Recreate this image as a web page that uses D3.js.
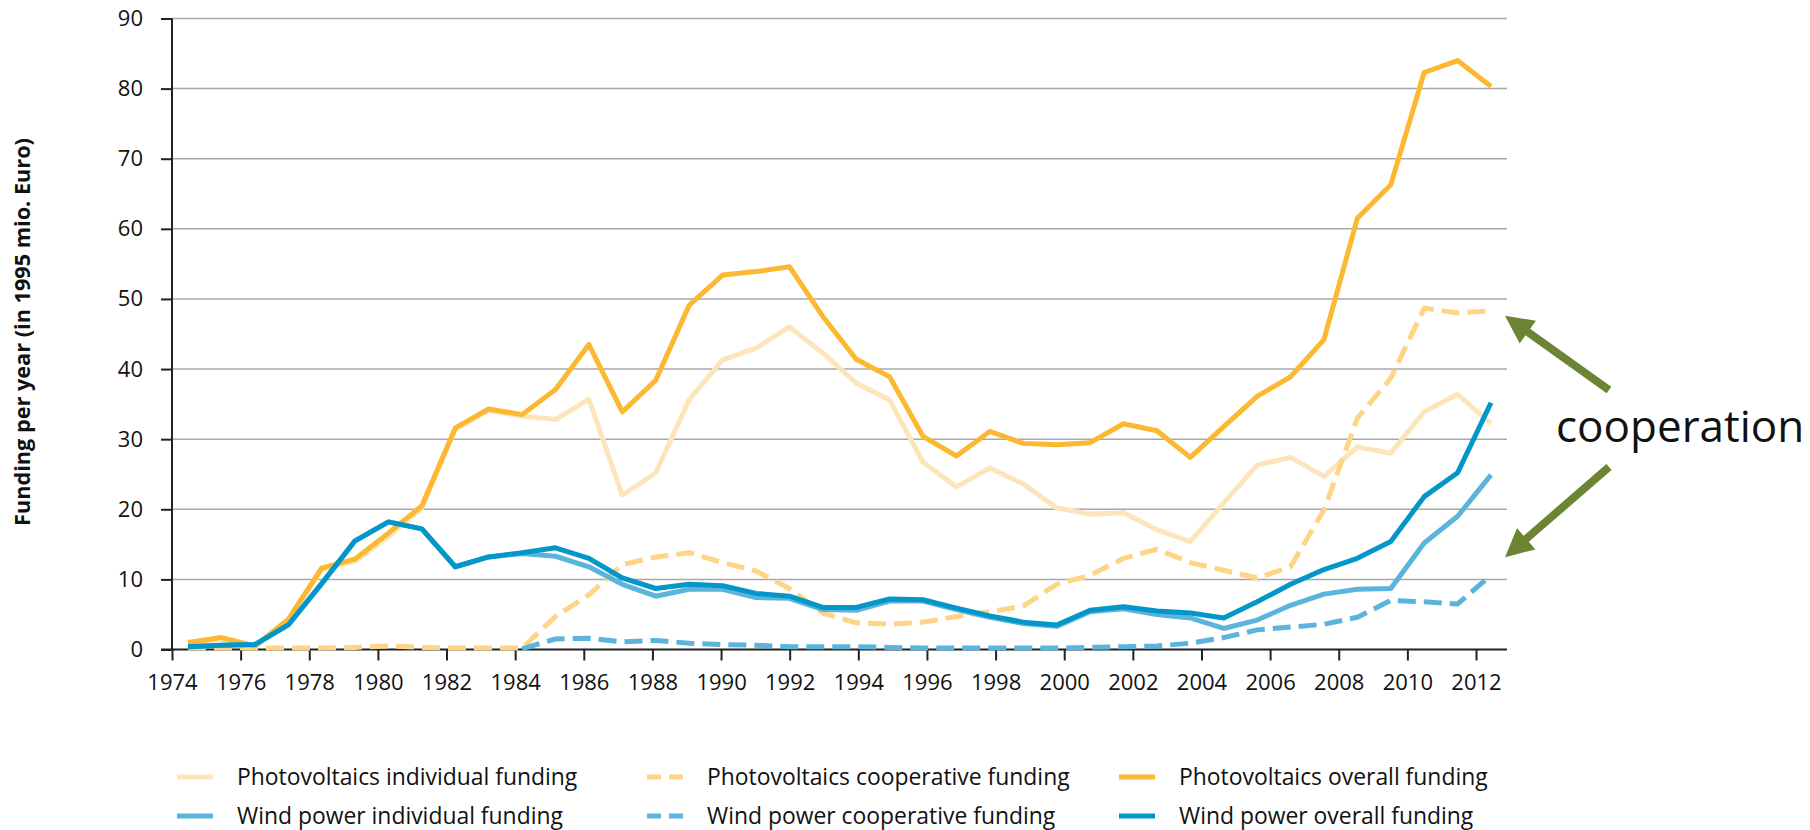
<!DOCTYPE html>
<html>
<head>
<meta charset="utf-8">
<script src="https://cdn.jsdelivr.net/npm/d3@7"></script>
<style>
  body { margin: 0; background: #ffffff; }
  svg { display: block; }
  text { font-family: "Open Sans", "Liberation Sans", sans-serif; fill: #111111; }
</style>
</head>
<body>
<div id="chart"></div>
<script>
// Funding per year for photovoltaics and wind power (in 1995 mio. Euro)

const years = d3.range(1974, 2014);

const pvIndividual = [
  0.8, 1.5, 0.3, 4.1, 11.4, 12.6, 16.1, 20.2, 31.4, 34.1,
  33.3, 32.8, 35.7, 22.0, 25.2, 35.6, 41.3, 43.0, 46.0, 42.3,
  38.0, 35.6, 26.7, 23.2, 25.9, 23.6, 20.2, 19.3, 19.5, 17.1,
  15.4, 20.9, 26.3, 27.4, 24.7, 28.9, 28.0, 33.9, 36.4, 32.2
];
const pvCooperative = [
  0.2, 0.2, 0.2, 0.2, 0.2, 0.3, 0.5, 0.3, 0.2, 0.2,
  0.2, 4.7, 7.8, 12.1, 13.2, 13.8, 12.4, 11.2, 8.7, 5.2,
  3.8, 3.6, 3.9, 4.7, 5.4, 6.2, 9.3, 10.6, 13.0, 14.3,
  12.4, 11.3, 10.2, 11.8, 19.9, 33.0, 38.7, 48.7, 48.0, 48.3
];
const pvOverall = [
  1.0, 1.7, 0.5, 4.3, 11.6, 12.9, 16.6, 20.5, 31.6, 34.3,
  33.5, 37.1, 43.5, 33.9, 38.4, 49.1, 53.4, 53.9, 54.6, 47.5,
  41.4, 38.9, 30.4, 27.6, 31.1, 29.4, 29.2, 29.5, 32.2, 31.2,
  27.4, 31.8, 36.1, 38.9, 44.2, 61.5, 66.3, 82.3, 84.0, 80.3
];
const windIndividual = [
  0.4, 0.6, 0.7, 3.5, 9.4, 15.5, 18.2, 17.2, 11.8, 13.2,
  13.7, 13.3, 11.8, 9.3, 7.6, 8.6, 8.6, 7.4, 7.3, 5.7,
  5.6, 6.9, 6.9, 5.7, 4.6, 3.7, 3.3, 5.4, 5.8, 5.0,
  4.5, 3.0, 4.2, 6.3, 7.9, 8.6, 8.7, 15.2, 19.0, 24.9
];
const windCooperative = [
  null, null, null, null, null, null, null, null, null, null,
  0.1, 1.5, 1.6, 1.1, 1.3, 0.9, 0.7, 0.6, 0.4, 0.4,
  0.4, 0.3, 0.2, 0.2, 0.2, 0.2, 0.2, 0.3, 0.4, 0.5,
  0.9, 1.7, 2.8, 3.2, 3.6, 4.6, 7.0, 6.8, 6.5, 10.6
];
const windOverall = [
  0.4, 0.6, 0.7, 3.5, 9.4, 15.5, 18.2, 17.2, 11.8, 13.2,
  13.8, 14.5, 13.0, 10.2, 8.7, 9.3, 9.1, 8.0, 7.6, 6.0,
  6.0, 7.2, 7.1, 5.9, 4.8, 3.9, 3.5, 5.6, 6.1, 5.5,
  5.2, 4.5, 6.8, 9.3, 11.4, 13.0, 15.4, 21.8, 25.2, 35.2
];

const seriesNames = [
  "Photovoltaics individual funding",
  "Photovoltaics cooperative funding",
  "Photovoltaics overall funding",
  "Wind power individual funding",
  "Wind power cooperative funding",
  "Wind power overall funding"
];
const seriesColors = ["#fde5bb", "#fed487", "#fbb830", "#5bb4dc", "#5bb4dc", "#0396c8"];
const seriesDashed = [false, true, false, false, true, false];
const seriesValues = [pvIndividual, pvCooperative, pvOverall, windIndividual, windCooperative, windOverall];

const xTicks = d3.range(1974, 2013, 2);
const yTicks = d3.range(0, 91, 10);

const yTitle = "Funding per year (in 1995 mio. Euro)";
const noteText = "cooperation";

// Dimensions
const width = 1810;
const height = 830;
const plotLeft = 172;
const plotRight = 1507;
const plotTop = 18.5;
const plotBottom = 649.5;

const svg = d3.select("#chart").append("svg")
  .attr("width", width)
  .attr("height", height);

const x = d3.scaleLinear().domain([1974, 2012]).range([plotLeft, 1476]);
const xPoint = d3.scalePoint().domain(years).range([188, 1491]);
const y = d3.scaleLinear().domain([0, 90]).range([plotBottom, plotTop]);

// Gridlines
svg.append("g")
  .selectAll("line")
  .data(yTicks.filter(d => d > 0))
  .join("line")
  .attr("x1", plotLeft)
  .attr("x2", plotRight)
  .attr("y1", d => y(d))
  .attr("y2", d => y(d))
  .attr("stroke", "#a8a8a8")
  .attr("stroke-width", 1.5);

// Y axis
const yAxis = svg.append("g")
  .attr("transform", `translate(${plotLeft},0)`)
  .call(d3.axisLeft(y).tickValues(yTicks).tickSize(11).tickPadding(18));
yAxis.select(".domain").remove();
yAxis.selectAll(".tick line").attr("stroke", "#222").attr("stroke-width", 2);
yAxis.selectAll(".tick text")
  .attr("font-size", "22px")
  .attr("font-family", "'Open Sans', sans-serif")
  .attr("fill", "#111");
yAxis.append("line")
  .attr("y1", plotTop)
  .attr("y2", plotBottom)
  .attr("stroke", "#222")
  .attr("stroke-width", 2);

// X axis
const xAxis = svg.append("g")
  .attr("transform", `translate(0,${plotBottom})`)
  .call(d3.axisBottom(x).tickValues(xTicks).tickFormat(d3.format("d")).tickSize(11).tickPadding(14));
xAxis.select(".domain").remove();
xAxis.selectAll(".tick line").attr("stroke", "#222").attr("stroke-width", 2);
xAxis.selectAll(".tick text")
  .attr("font-size", "22px")
  .attr("font-family", "'Open Sans', sans-serif")
  .attr("fill", "#111");
xAxis.append("line")
  .attr("x1", plotLeft - 11)
  .attr("x2", plotRight)
  .attr("stroke", "#222")
  .attr("stroke-width", 2);

// Lines
const line = d3.line()
  .defined(d => d.v != null)
  .x(d => xPoint(d.year))
  .y(d => y(d.v));

svg.append("g")
  .selectAll("path")
  .data(seriesValues)
  .join("path")
  .attr("d", vals => line(vals.map((v, i) => ({ year: years[i], v: v }))))
  .attr("fill", "none")
  .attr("stroke", (d, i) => seriesColors[i])
  .attr("stroke-width", 5)
  .attr("stroke-linejoin", "round")
  .attr("stroke-dasharray", (d, i) => seriesDashed[i] ? "18,8" : null);

// Y title
svg.append("text")
  .attr("transform", "translate(30,332) rotate(-90)")
  .attr("text-anchor", "middle")
  .attr("font-size", "21.7px")
  .attr("font-weight", "bold")
  .text(yTitle);

// Legend
const legendCols = [177, 647, 1119];
const legendRows = [777, 816];
const legend = svg.append("g")
  .selectAll("g")
  .data(seriesNames)
  .join("g")
  .attr("transform", (d, i) => `translate(${legendCols[i % 3]},${legendRows[Math.floor(i / 3)]})`);

legend.append("line")
  .attr("x1", 0)
  .attr("x2", 36)
  .attr("stroke", (d, i) => seriesColors[i])
  .attr("stroke-width", 5)
  .attr("stroke-dasharray", (d, i) => seriesDashed[i] ? "14,8" : null);

legend.append("text")
  .attr("x", 60)
  .attr("dy", "0.35em")
  .attr("font-size", "22.9px")
  .text(d => d);

// Annotation
const arrowColor = "#6b8532";

function arrowPath(tail, tip) {
  const dx = tip[0] - tail[0];
  const dy = tip[1] - tail[1];
  const len = Math.sqrt(dx * dx + dy * dy);
  const ux = dx / len, uy = dy / len;
  const px = -uy, py = ux;
  const shaft = 4, headLen = 28, headHalf = 14;
  const bx = tip[0] - ux * headLen, by = tip[1] - uy * headLen;
  const pts = [
    [tail[0] + px * shaft, tail[1] + py * shaft],
    [bx + px * shaft, by + py * shaft],
    [bx + px * headHalf, by + py * headHalf],
    tip,
    [bx - px * headHalf, by - py * headHalf],
    [bx - px * shaft, by - py * shaft],
    [tail[0] - px * shaft, tail[1] - py * shaft]
  ];
  return "M" + pts.map(p => p.join(",")).join("L") + "Z";
}

const lastYear = years[years.length - 1];
const arrows = [
  [[1609, 390], [xPoint(lastYear) + 14, y(pvCooperative[pvCooperative.length - 1]) + 5]],
  [[1609, 467], [xPoint(lastYear) + 14, y(windCooperative[windCooperative.length - 1]) - 18]]
];

svg.append("g")
  .selectAll("path")
  .data(arrows)
  .join("path")
  .attr("d", d => arrowPath(d[0], d[1]))
  .attr("fill", arrowColor);

svg.append("text")
  .attr("x", 1556)
  .attr("y", 442)
  .attr("font-size", "44px")
  .text(noteText);
</script>
</body>
</html>
